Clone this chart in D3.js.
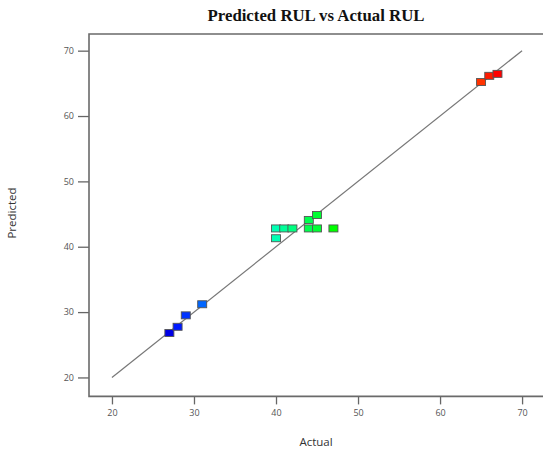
<!DOCTYPE html>
<html>
<head>
<meta charset="utf-8">
<script src="https://cdn.jsdelivr.net/npm/d3@7/dist/d3.min.js"></script>
<style>
  html, body { margin: 0; padding: 0; background: #fff; }
  svg { display: block; }
</style>
</head>
<body>
<svg id="chart" width="543" height="449"></svg>
<script>
// Observed (actual) and model-predicted remaining useful life
const actual    = [27, 28, 29, 31, 40, 40, 41, 42, 44, 44, 45, 45, 47, 65, 66, 67];
const predicted = [26.8, 27.75, 29.5, 31.2, 42.8, 41.3, 42.8, 42.8, 42.8, 44.1, 42.8, 44.85, 42.8, 65.2, 66.15, 66.45];
const xTicks = [20, 30, 40, 50, 60, 70];
const yTicks = [20, 30, 40, 50, 60, 70];
const refLine = [20, 70];

const svg = d3.select("#chart");
const plot = { left: 89, top: 34, right: 545, bottom: 396.4 };

const x = d3.scaleLinear().domain([17.2, 72.6]).range([plot.left, 543.4]);
const y = d3.scaleLinear().domain([17.1, 72.55]).range([plot.bottom, plot.top]);

// colour by actual value, blue (low) to red (high)
const hue = d3.scaleLinear().domain(d3.extent(actual)).range([240, 0]);
const colour = v => d3.hsl(hue(v), 1, v <= 27 ? 0.45 : 0.5).formatHex();

// title
svg.append("text")
  .attr("x", 316).attr("y", 21)
  .attr("text-anchor", "middle")
  .attr("font-family", "'Liberation Serif', 'Times New Roman', serif")
  .attr("font-weight", "bold")
  .attr("font-size", 16.8)
  .attr("fill", "#111")
  .text("Predicted RUL vs Actual RUL");

// x axis
const xAxis = svg.append("g")
  .attr("transform", `translate(0,${plot.bottom})`)
  .call(d3.axisBottom(x).tickValues(xTicks).tickSize(8).tickPadding(5).tickFormat(d3.format("d")));
xAxis.select(".domain").remove();
xAxis.selectAll("line").attr("stroke", "#666").attr("stroke-width", 1.3);
xAxis.selectAll("text").attr("fill", "#555").attr("font-size", 9)
  .attr("font-family", "'Open Sans', 'Noto Sans', sans-serif");

// y axis
const yAxis = svg.append("g")
  .attr("transform", `translate(${plot.left},0)`)
  .call(d3.axisLeft(y).tickValues(yTicks).tickSize(11).tickPadding(4).tickFormat(d3.format("d")));
yAxis.select(".domain").remove();
yAxis.selectAll("line").attr("stroke", "#666").attr("stroke-width", 1.3);
yAxis.selectAll("text").attr("fill", "#555").attr("font-size", 9)
  .attr("font-family", "'Open Sans', 'Noto Sans', sans-serif");

// frame (left, top, bottom)
svg.append("path")
  .attr("d", `M${plot.right},${plot.top}H${plot.left}V${plot.bottom}H${plot.right}`)
  .attr("fill", "none")
  .attr("stroke", "#6a6a6a")
  .attr("stroke-width", 1.6);

// axis titles
svg.append("text")
  .attr("x", 316).attr("y", 446)
  .attr("text-anchor", "middle")
  .attr("font-family", "'Open Sans', 'Noto Sans', sans-serif")
  .attr("font-size", 11.5)
  .attr("fill", "#333")
  .text("Actual");

svg.append("text")
  .attr("transform", "translate(16,213) rotate(-90)")
  .attr("text-anchor", "middle")
  .attr("font-family", "'Open Sans', 'Noto Sans', sans-serif")
  .attr("font-size", 11.5)
  .attr("fill", "#333")
  .text("Predicted");

// 45-degree reference line
svg.append("line")
  .attr("x1", x(refLine[0])).attr("y1", y(refLine[0]))
  .attr("x2", x(refLine[1])).attr("y2", y(refLine[1]))
  .attr("stroke", "#777")
  .attr("stroke-width", 1.2);

// points
const mw = 9, mh = 7;
svg.append("g").selectAll("rect")
  .data(d3.range(actual.length))
  .join("rect")
  .attr("x", i => x(actual[i]) - mw / 2)
  .attr("y", i => y(predicted[i]) - mh / 2)
  .attr("width", mw).attr("height", mh)
  .attr("fill", i => colour(actual[i]))
  .attr("stroke", "#555")
  .attr("stroke-width", 0.9);
</script>
</body>
</html>
